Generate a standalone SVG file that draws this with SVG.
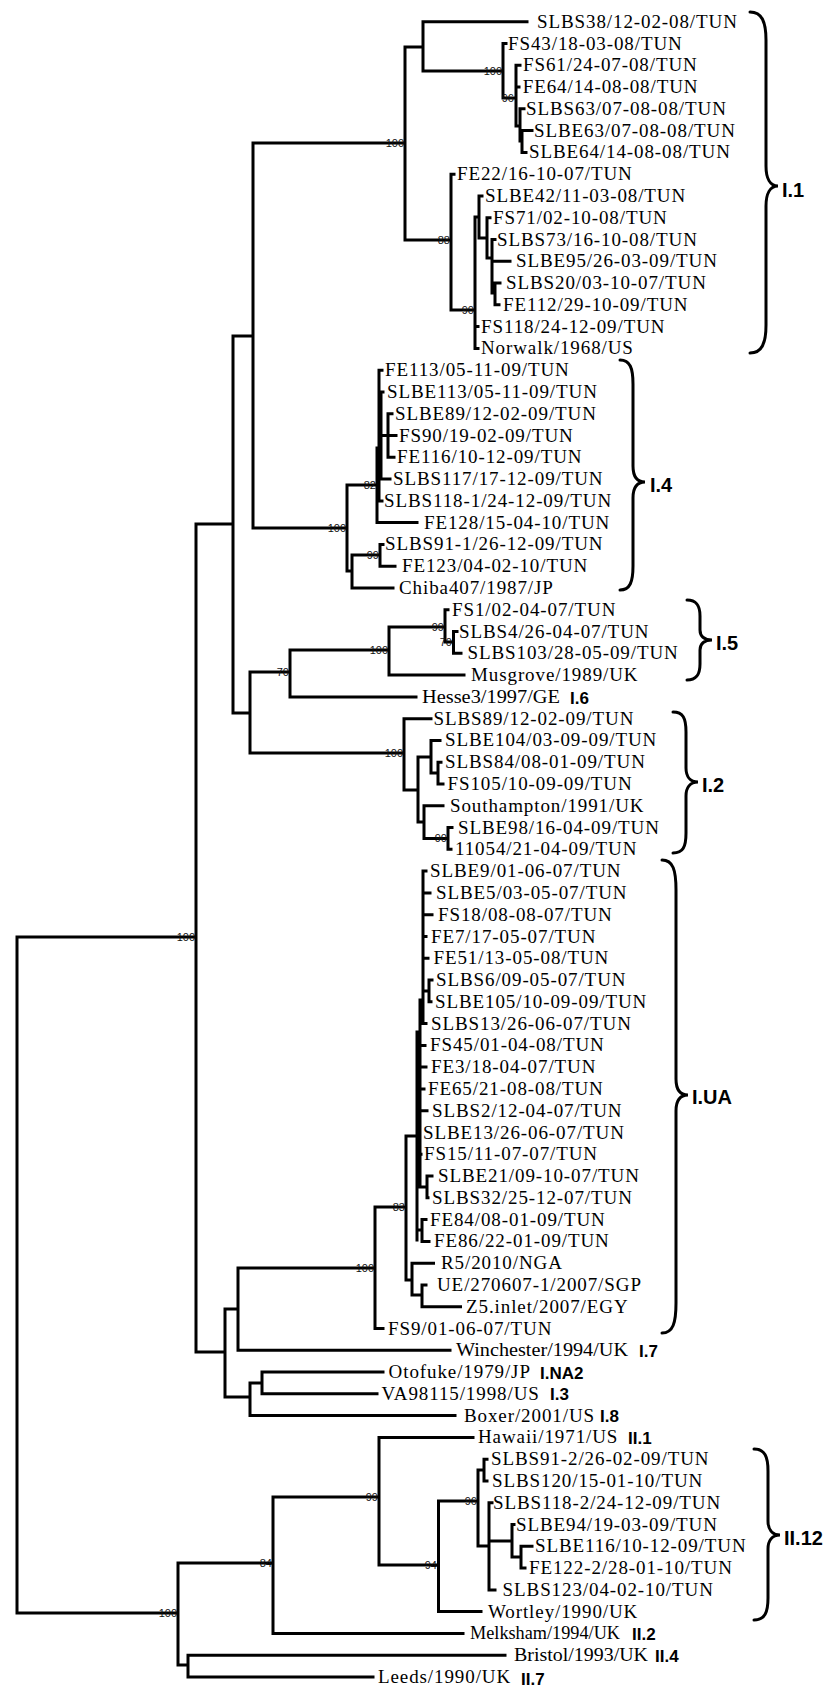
<svg xmlns="http://www.w3.org/2000/svg" width="838" height="1686" viewBox="0 0 838 1686">
<style>
.br{fill:none;stroke:#000;stroke-width:3;stroke-linecap:square;stroke-linejoin:miter}
.bk{fill:none;stroke:#000;stroke-width:3;stroke-linecap:round}
.t{font-family:"Liberation Serif","Times New Roman",serif;font-size:19px;letter-spacing:0.9px;fill:#000}
.f{letter-spacing:0}
.bs{font-family:"Liberation Sans",Arial,sans-serif;font-size:11px;fill:#111;text-anchor:end}
.cl{font-family:"Liberation Sans",Arial,sans-serif;font-size:20px;font-weight:bold;fill:#000}
.cs{font-family:"Liberation Sans",Arial,sans-serif;font-size:17px;font-weight:bold;fill:#000}
</style>
<rect width="838" height="1686" fill="#fff"/>
<g id="connectors">
<path class="br" d="M17,937V1613M17,937H196M17,1613H178
M196,524V1352M196,524H233M196,1352H225
M233,336V713M233,336H253M233,713H250
M253,143V528M253,143H405M253,528H347
M405,47V240M405,47H423M405,240H451
M423,21.7V71M423,21.7H527M423,71H503
M503,43.5V98M503,43.5H506M503,98H516
M516,65.3V126M516,65.3H520M516,87H519M516,126H520
M520,108.8V141M520,108.8H524M520,141H522
M522,130.6V152.4M522,130.6H532M522,152.4H526
M451,174.2V310M451,174.2H454M451,310H475
M475,217V348.4M475,217H479M475,326.6H478M475,348.4H478
M479,195.9V238M479,195.9H482M479,238H487
M487,217.7V258M487,217.7H490M487,258H492
M492,239.5V293M492,239.5H495M492,261.3H510M492,293H495
M495,283.1V304.8M495,283.1H500M495,304.8H499
M347,485V571M347,485H377M347,571H352
M377,448V522.6M377,448H379M377,522.6H417
M379,370.2V500.9M379,370.2H382M379,435H381M379,500.9H382
M381,392V479.1M381,392H383M381,435.5H388M381,479.1H390
M388,413.7V457.3M388,413.7H392M388,435.5H396M388,457.3H394
M352,555V588M352,555H380M352,588H393
M380,544.4V566.2M380,544.4H383M380,566.2H395
M250,672V753M250,672H290M250,753H404
M290,650V696.9M290,650H389M290,696.9H416
M389,627V675.1M389,627H445M389,675.1H464
M445,609.8V642M445,609.8H448M445,642H453.5
M453.5,631.5V653.3M453.5,631.5H457M453.5,653.3H461
M404,718.7V790M404,718.7H431M404,790H418
M418,757V822M418,757H431M418,822H424
M431,740.4V773M431,740.4H440M431,773H438
M438,762.2V784M438,762.2H441M438,784H443
M424,805.8V838.5M424,805.8H443M424,838.5H448
M448,827.6V849.3M448,827.6H452M448,849.3H451
M225,1309V1397M225,1309H238M225,1397H250
M238,1268V1350.3M238,1268H375M238,1350.3H450
M375,1207V1328.5M375,1207H406M375,1328.5H383
M406,1136V1280M406,1136H417M406,1280H412
M412,1263.2V1295M412,1263.2H433.5M412,1295H422
M422,1284.9V1306.7M422,1284.9H426M422,1306.7H460.5
M423,871.1V1023.6M420,1000H423M420,1000V1187M417,1032V1240M417,1100H420
M423,871.1H426M423,892.9H430M423,914.7H432M423,936.5H426M423,958.2H428M423,991H429
M429,980V1001.8M429,980H432M429,1001.8H431M423,1023.6H426
M420,1045.4H425M420,1067.1H426M420,1088.9H424M420,1110.7H427M417,1132.5H420M417,1154.3H421
M420,1187H427M427,1176V1197.8M427,1176H432M427,1197.8H428
M417,1230H422M422,1219.6V1241.4M422,1219.6H426M422,1241.4H429
M250,1383V1415.6M250,1383H262M250,1415.6H455
M262,1372.1V1393.8M262,1372.1H383M262,1393.8H377
M178,1563V1665M178,1563H273M178,1665H188
M188,1655.2V1677M188,1655.2H505M188,1677H373
M273,1497V1633.4M273,1497H379M273,1633.4H463
M379,1437.4V1565M379,1437.4H473M379,1565H438.5
M438.5,1501V1611.6M438.5,1501H478M438.5,1611.6H481
M478,1470V1546M478,1470H484M478,1546H489
M484,1459.2V1481M484,1459.2H487M484,1481H487
M489,1502.7V1589.9M489,1502.7H492M489,1541H512M489,1589.9H495
M512,1524.5V1557M512,1524.5H514M512,1557H521
M521,1546.3V1568.1M521,1546.3H532M521,1568.1H525"/>
</g>
<g id="bootstrap">
<text class="bs" x="404" y="147">100</text>
<text class="bs" x="502" y="75">100</text>
<text class="bs" x="514" y="102">96</text>
<text class="bs" x="450" y="244">88</text>
<text class="bs" x="474" y="314">90</text>
<text class="bs" x="346" y="532">100</text>
<text class="bs" x="376" y="489">82</text>
<text class="bs" x="379" y="559">99</text>
<text class="bs" x="289" y="676">70</text>
<text class="bs" x="388" y="654">100</text>
<text class="bs" x="444" y="631">99</text>
<text class="bs" x="452" y="646">70</text>
<text class="bs" x="403" y="757">100</text>
<text class="bs" x="447" y="842">90</text>
<text class="bs" x="195" y="941">100</text>
<text class="bs" x="374" y="1272">100</text>
<text class="bs" x="405" y="1211">83</text>
<text class="bs" x="177" y="1617">100</text>
<text class="bs" x="272" y="1567">84</text>
<text class="bs" x="378" y="1501">99</text>
<text class="bs" x="437" y="1569">94</text>
<text class="bs" x="477" y="1505">96</text>
</g>
<g id="leaves">
<g id="n0"><text class="t" x="537" y="27.7">SLBS38/12-02-08/TUN</text></g>
<g id="n1"><text class="t" x="508" y="49.5">FS43/18-03-08/TUN</text></g>
<g id="n2"><text class="t" x="523" y="71.3">FS61/24-07-08/TUN</text></g>
<g id="n3"><text class="t" x="522.7" y="93">FE64/14-08-08/TUN</text></g>
<g id="n4"><text class="t" x="526" y="114.8">SLBS63/07-08-08/TUN</text></g>
<g id="n5"><text class="t" x="534" y="136.6">SLBE63/07-08-08/TUN</text></g>
<g id="n6"><text class="t" x="529" y="158.4">SLBE64/14-08-08/TUN</text></g>
<g id="n7"><text class="t" x="457" y="180.2">FE22/16-10-07/TUN</text></g>
<g id="n8"><text class="t" x="485" y="201.9">SLBE42/11-03-08/TUN</text></g>
<g id="n9"><text class="t" x="493" y="223.7">FS71/02-10-08/TUN</text></g>
<g id="n10"><text class="t" x="497" y="245.5">SLBS73/16-10-08/TUN</text></g>
<g id="n11"><text class="t" x="516" y="267.3">SLBE95/26-03-09/TUN</text></g>
<g id="n12"><text class="t" x="506" y="289.1">SLBS20/03-10-07/TUN</text></g>
<g id="n13"><text class="t" x="503" y="310.8">FE112/29-10-09/TUN</text></g>
<g id="n14"><text class="t" x="481" y="332.6">FS118/24-12-09/TUN</text></g>
<g id="n15"><text class="t" x="481" y="354.4">Norwalk/1968/US</text></g>
<g id="n16"><text class="t" x="385" y="376.2">FE113/05-11-09/TUN</text></g>
<g id="n17"><text class="t" x="387" y="398">SLBE113/05-11-09/TUN</text></g>
<g id="n18"><text class="t" x="395" y="419.7">SLBE89/12-02-09/TUN</text></g>
<g id="n19"><text class="t" x="399" y="441.5">FS90/19-02-09/TUN</text></g>
<g id="n20"><text class="t" x="397" y="463.3">FE116/10-12-09/TUN</text></g>
<g id="n21"><text class="t" x="393" y="485.1">SLBS117/17-12-09/TUN</text></g>
<g id="n22"><text class="t" x="384" y="506.9">SLBS118-1/24-12-09/TUN</text></g>
<g id="n23"><text class="t" x="424" y="528.6">FE128/15-04-10/TUN</text></g>
<g id="n24"><text class="t" x="385" y="550.4">SLBS91-1/26-12-09/TUN</text></g>
<g id="n25"><text class="t" x="402" y="572.2">FE123/04-02-10/TUN</text></g>
<g id="n26"><text class="t" x="399" y="594">Chiba407/1987/JP</text></g>
<g id="n27"><text class="t" x="452" y="615.8">FS1/02-04-07/TUN</text></g>
<g id="n28"><text class="t" x="459" y="637.5">SLBS4/26-04-07/TUN</text></g>
<g id="n29"><text class="t" x="467.5" y="659.3">SLBS103/28-05-09/TUN</text></g>
<g id="n30"><text class="t" x="471" y="681.1">Musgrove/1989/UK</text></g>
<g id="n31"><text class="t f" x="422" y="702.9" textLength="138" lengthAdjust="spacingAndGlyphs">Hesse3/1997/GE</text></g>
<g id="n32"><text class="t" x="433.5" y="724.7">SLBS89/12-02-09/TUN</text></g>
<g id="n33"><text class="t" x="445" y="746.4">SLBE104/03-09-09/TUN</text></g>
<g id="n34"><text class="t" x="445" y="768.2">SLBS84/08-01-09/TUN</text></g>
<g id="n35"><text class="t" x="447.5" y="790">FS105/10-09-09/TUN</text></g>
<g id="n36"><text class="t" x="450" y="811.8">Southampton/1991/UK</text></g>
<g id="n37"><text class="t" x="458" y="833.6">SLBE98/16-04-09/TUN</text></g>
<g id="n38"><text class="t" x="455" y="855.3">11054/21-04-09/TUN</text></g>
<g id="n39"><text class="t" x="430" y="877.1">SLBE9/01-06-07/TUN</text></g>
<g id="n40"><text class="t" x="436" y="898.9">SLBE5/03-05-07/TUN</text></g>
<g id="n41"><text class="t" x="438" y="920.7">FS18/08-08-07/TUN</text></g>
<g id="n42"><text class="t" x="431" y="942.5">FE7/17-05-07/TUN</text></g>
<g id="n43"><text class="t" x="433.5" y="964.2">FE51/13-05-08/TUN</text></g>
<g id="n44"><text class="t" x="436" y="986">SLBS6/09-05-07/TUN</text></g>
<g id="n45"><text class="t" x="435" y="1007.8">SLBE105/10-09-09/TUN</text></g>
<g id="n46"><text class="t" x="431" y="1029.6">SLBS13/26-06-07/TUN</text></g>
<g id="n47"><text class="t" x="430" y="1051.4">FS45/01-04-08/TUN</text></g>
<g id="n48"><text class="t" x="431" y="1073.1">FE3/18-04-07/TUN</text></g>
<g id="n49"><text class="t" x="428" y="1094.9">FE65/21-08-08/TUN</text></g>
<g id="n50"><text class="t" x="432" y="1116.7">SLBS2/12-04-07/TUN</text></g>
<g id="n51"><text class="t" x="423" y="1138.5">SLBE13/26-06-07/TUN</text></g>
<g id="n52"><text class="t" x="424" y="1160.3">FS15/11-07-07/TUN</text></g>
<g id="n53"><text class="t" x="438" y="1182">SLBE21/09-10-07/TUN</text></g>
<g id="n54"><text class="t" x="432" y="1203.8">SLBS32/25-12-07/TUN</text></g>
<g id="n55"><text class="t" x="430" y="1225.6">FE84/08-01-09/TUN</text></g>
<g id="n56"><text class="t" x="434" y="1247.4">FE86/22-01-09/TUN</text></g>
<g id="n57"><text class="t" x="441" y="1269.2">R5/2010/NGA</text></g>
<g id="n58"><text class="t" x="437" y="1290.9">UE/270607-1/2007/SGP</text></g>
<g id="n59"><text class="t" x="466" y="1312.7">Z5.inlet/2007/EGY</text></g>
<g id="n60"><text class="t" x="388" y="1334.5">FS9/01-06-07/TUN</text></g>
<g id="n61"><text class="t f" x="456" y="1356.3" textLength="172" lengthAdjust="spacingAndGlyphs">Winchester/1994/UK</text></g>
<g id="n62"><text class="t" x="388.6" y="1378.1">Otofuke/1979/JP</text></g>
<g id="n63"><text class="t" x="381.6" y="1399.8">VA98115/1998/US</text></g>
<g id="n64"><text class="t" x="464" y="1421.6">Boxer/2001/US</text></g>
<g id="n65"><text class="t" x="478" y="1443.4">Hawaii/1971/US</text></g>
<g id="n66"><text class="t" x="491" y="1465.2">SLBS91-2/26-02-09/TUN</text></g>
<g id="n67"><text class="t" x="492" y="1487">SLBS120/15-01-10/TUN</text></g>
<g id="n68"><text class="t" x="493" y="1508.7">SLBS118-2/24-12-09/TUN</text></g>
<g id="n69"><text class="t" x="516" y="1530.5">SLBE94/19-03-09/TUN</text></g>
<g id="n70"><text class="t" x="535" y="1552.3">SLBE116/10-12-09/TUN</text></g>
<g id="n71"><text class="t" x="529" y="1574.1">FE122-2/28-01-10/TUN</text></g>
<g id="n72"><text class="t" x="502.6" y="1595.9">SLBS123/04-02-10/TUN</text></g>
<g id="n73"><text class="t" x="488" y="1617.6">Wortley/1990/UK</text></g>
<g id="n74"><text class="t f" x="470" y="1639.4" textLength="150" lengthAdjust="spacingAndGlyphs">Melksham/1994/UK</text></g>
<g id="n75"><text class="t f" x="514" y="1661.2" textLength="134" lengthAdjust="spacingAndGlyphs">Bristol/1993/UK</text></g>
<g id="n76"><text class="t" x="378" y="1683">Leeds/1990/UK</text></g>
</g>
<g id="clades">
<g id="c-I1"><path class="bk" d="M750,12C762,12 766,22 766,40L766,166C766,178 770,186 778,186C770,186 766,194 766,206L766,325C766,343 762,353 750,353"/><text class="cl" x="782" y="197">I.1</text></g>
<g id="c-I4"><path class="bk" d="M620,360C630,360 633,368 633,384L633,466C633,476 637,482 645,482C637,482 633,488 633,498L633,566C633,582 630,590 620,590"/><text class="cl" x="650" y="492">I.4</text></g>
<g id="c-I5"><path class="bk" d="M687,600C697,600 700,606 700,616L700,630C700,636 704,640 712,640C704,640 700,644 700,650L700,664C700,674 697,680 687,680"/><text class="cl" x="716" y="650">I.5</text></g>
<g id="c-I2"><path class="bk" d="M673,712C683,712 686,718 686,732L686,768C686,776 690,782 698,782C690,782 686,788 686,796L686,833C686,847 683,853 673,853"/><text class="cl" x="702" y="792">I.2</text></g>
<g id="c-IUA"><path class="bk" d="M662,860C673,860 676,870 676,890L676,1079C676,1089 680,1095 688,1095C680,1095 676,1101 676,1111L676,1303C676,1323 673,1333 662,1333"/><text class="cl" x="692" y="1104">I.UA</text></g>
<g id="c-II12"><path class="bk" d="M754,1449C765,1449 768,1457 768,1471L768,1521C768,1529 772,1535 780,1535C772,1535 768,1541 768,1549L768,1598C768,1612 765,1620 754,1620"/><text class="cl" x="784" y="1545">II.12</text></g>
<g id="c-I6"><text class="cs" x="570" y="704">I.6</text></g>
<g id="c-I7"><text class="cs" x="639" y="1357">I.7</text></g>
<g id="c-INA2"><text class="cs" x="540" y="1379">I.NA2</text></g>
<g id="c-I3"><text class="cs" x="550" y="1400">I.3</text></g>
<g id="c-I8"><text class="cs" x="600" y="1422">I.8</text></g>
<g id="c-II1"><text class="cs" x="628" y="1444">II.1</text></g>
<g id="c-II2"><text class="cs" x="632" y="1640">II.2</text></g>
<g id="c-II4"><text class="cs" x="655" y="1662">II.4</text></g>
<g id="c-II7"><text class="cs" x="521" y="1685">II.7</text></g>
</g>
</svg>
